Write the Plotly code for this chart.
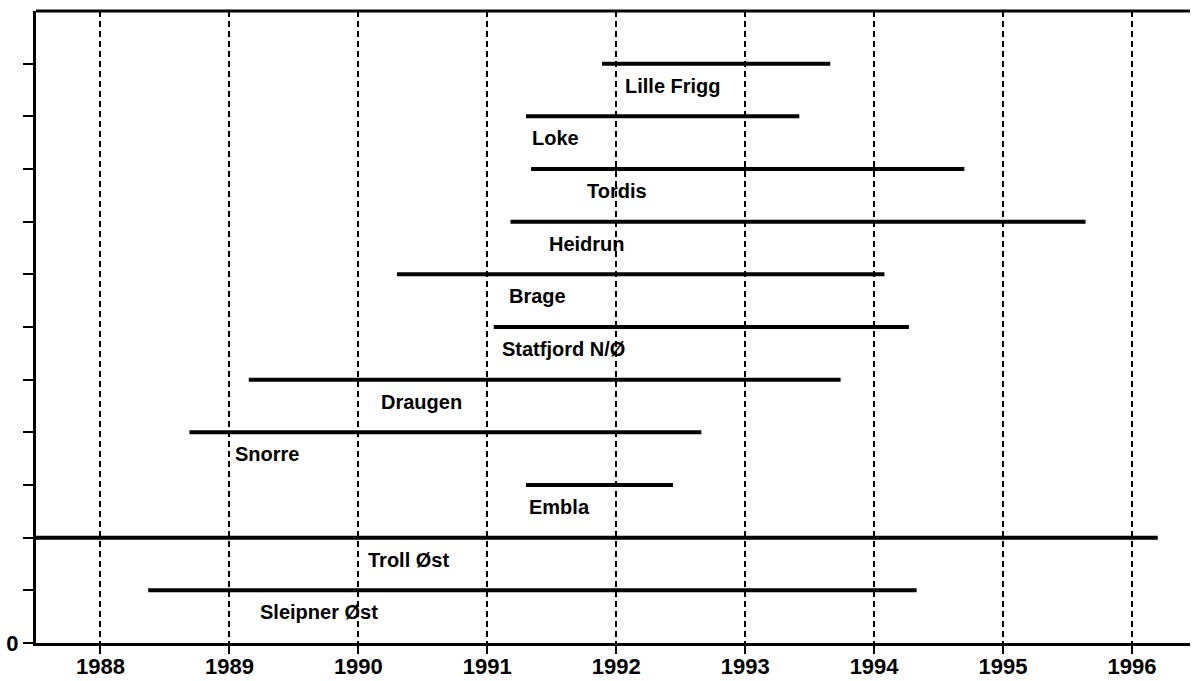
import plotly.graph_objects as go

fields = ["Sleipner Øst", "Troll Øst", "Embla", "Snorre", "Draugen", "Statfjord N/Ø",
          "Brage", "Heidrun", "Tordis", "Loke", "Lille Frigg"]
levels = [1, 2, 3, 4, 5, 6, 7, 8, 9, 10, 11]
start_year = [1988.37, 1987.5, 1991.30, 1988.69, 1989.15, 1991.05, 1990.30, 1991.18, 1991.34, 1991.30, 1991.89]
end_year = [1994.33, 1996.20, 1992.44, 1992.66, 1993.74, 1994.27, 1994.08, 1995.64, 1994.70, 1993.42, 1993.66]
label_year = [1989.22, 1990.06, 1991.31, 1989.03, 1990.16, 1991.10, 1991.15, 1991.46, 1991.76, 1991.33, 1992.05]
year_ticks = [1988, 1989, 1990, 1991, 1992, 1993, 1994, 1995, 1996]
y_ticks = list(range(0, 12))
y_ticktext = ["0"] + [""] * 11

FONT = "Liberation Sans, Arial, sans-serif"

fig = go.Figure()
xs, ys = [], []
for s, e, lv in zip(start_year, end_year, levels):
    xs += [s, e, None]
    ys += [lv, lv, None]
fig.add_trace(go.Scatter(x=xs, y=ys, mode="lines", line=dict(color="black", width=4),
                         hoverinfo="skip", showlegend=False, cliponaxis=False))

for name, lx, lv in zip(fields, label_year, levels):
    fig.add_annotation(x=lx, y=lv - 0.42, text="<b>" + name + "</b>", showarrow=False, xanchor="left",
                       yanchor="middle", font=dict(family=FONT, size=20, color="black"))

# top border
fig.add_shape(type="line", xref="paper", yref="paper", x0=0, x1=1, y0=1, y1=1,
              line=dict(color="black", width=3))

fig.update_layout(
    width=1192, height=681,
    margin=dict(l=36, r=2, t=11, b=38, autoexpand=False),
    plot_bgcolor="white", paper_bgcolor="white",
    showlegend=False,
    xaxis=dict(range=[1987.5, 1996.45], tickvals=year_ticks,
               ticktext=["<b>%d</b>" % v for v in year_ticks],
               showgrid=True, gridcolor="black", gridwidth=2, griddash="6px,4px",
               showline=True, linecolor="black", linewidth=3, automargin=False,
               ticks="outside", ticklen=8, tickwidth=2, tickcolor="black",
               ticklabelstandoff=-6,
               tickfont=dict(family=FONT, size=22, color="black"), zeroline=False),
    yaxis=dict(range=[0, 12], tickvals=y_ticks, ticktext=["<b>%s</b>" % t for t in y_ticktext],
               showgrid=False, showline=True, linecolor="black", linewidth=3, automargin=False,
               ticks="outside", ticklen=10, tickwidth=2, tickcolor="black",
               tickfont=dict(family=FONT, size=22, color="black"), zeroline=False),
)

fig.write_html("out.html", config={"displayModeBar": False},
               post_script="document.body.style.margin='0';document.body.style.padding='0';")
